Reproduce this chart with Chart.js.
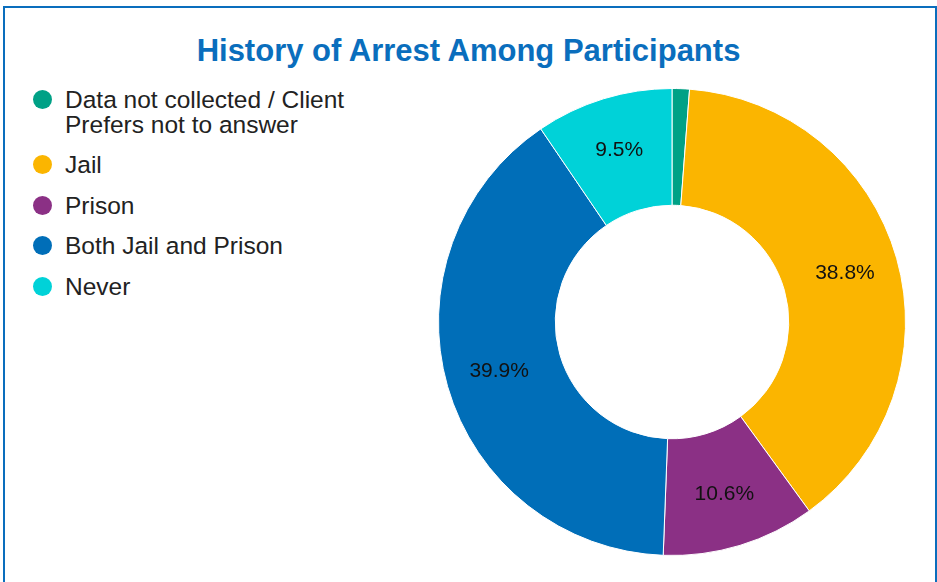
<!DOCTYPE html>
<html>
<head>
<meta charset="utf-8">
<script src="https://cdn.jsdelivr.net/npm/chart.js@4"></script>
<style>
  html, body { margin: 0; padding: 0; background: #fff; }
  body { width: 937px; height: 582px; position: relative; overflow: hidden; font-family: "Liberation Sans", Arial, sans-serif; }
  #frame { position: absolute; left: 3px; top: 6px; width: 930px; height: 600px; border: 2px solid #0a6ebd; border-bottom: none; }
  #title { position: absolute; left: 0; width: 937px; top: 33px; text-align: center; font-size: 31px; line-height: 36px; font-weight: bold; color: #0a6ebd; }
  #legend { position: absolute; left: 33px; top: 88px; list-style: none; margin: 0; padding: 0; }
  #legend li { position: relative; padding-left: 32px; font-size: 24.5px; line-height: 24.5px; color: #222; margin-bottom: 16px; }
  #legend li span { position: absolute; left: 0; top: 2px; width: 19px; height: 19px; border-radius: 50%; }
  #wrap { position: absolute; left: 438px; top: 88px; width: 468px; height: 468px; }
</style>
</head>
<body>
<div id="frame"></div>
<div id="title">History of Arrest Among Participants</div>
<ul id="legend"></ul>
<div id="wrap"><canvas id="pie"></canvas></div>
<script>
const labels = ['Data not collected / Client Prefers not to answer', 'Jail', 'Prison', 'Both Jail and Prison', 'Never'];
const legendLines = [['Data not collected / Client', 'Prefers not to answer'], ['Jail'], ['Prison'], ['Both Jail and Prison'], ['Never']];
const values = [1.2, 38.8, 10.6, 39.9, 9.5];
const colors = ['#00a186', '#fbb500', '#8b3085', '#006eb8', '#00d2d8'];

// html legend
const legend = document.getElementById('legend');
legendLines.forEach((lines, i) => {
  const li = document.createElement('li');
  const dot = document.createElement('span');
  dot.style.background = colors[i];
  li.appendChild(dot);
  lines.forEach((t, j) => {
    if (j > 0) li.appendChild(document.createElement('br'));
    li.appendChild(document.createTextNode(t));
  });
  legend.appendChild(li);
});

// percent labels in the middle of each slice
const sliceLabels = {
  id: 'sliceLabels',
  afterDatasetsDraw(chart) {
    const c = chart.ctx;
    const meta = chart.getDatasetMeta(0);
    c.save();
    c.font = '21px "Liberation Sans", Arial, sans-serif';
    c.fillStyle = '#111';
    c.textAlign = 'center';
    c.textBaseline = 'middle';
    meta.data.forEach((arc, i) => {
      if (values[i] < 3) return;
      const mid = (arc.startAngle + arc.endAngle) / 2;
      const r = arc.outerRadius * 0.77;
      c.fillText(values[i].toFixed(1) + '%', arc.x + Math.cos(mid) * r, arc.y + Math.sin(mid) * r);
    });
    c.restore();
  }
};

new Chart(document.getElementById('pie'), {
  type: 'doughnut',
  data: {
    labels: labels,
    datasets: [{
      data: values,
      backgroundColor: colors,
      borderColor: '#fff',
      borderWidth: 1
    }]
  },
  options: {
    responsive: true,
    maintainAspectRatio: false,
    animation: false,
    cutout: '50%',
    layout: { padding: 0 },
    plugins: {
      legend: { display: false },
      tooltip: { enabled: false }
    }
  },
  plugins: [sliceLabels]
});
</script>
</body>
</html>
